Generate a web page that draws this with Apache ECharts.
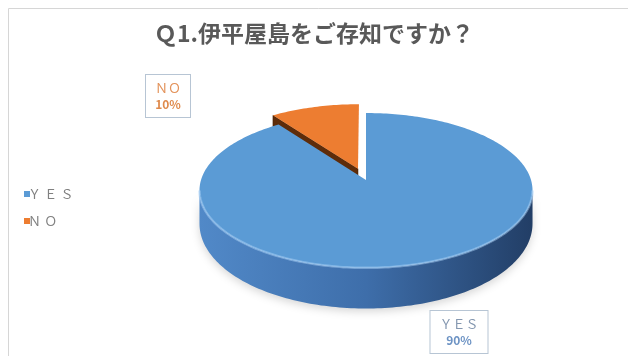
<!DOCTYPE html>
<html>
<head>
<meta charset="utf-8">
<script src="https://cdn.jsdelivr.net/npm/echarts/dist/echarts.min.js"></script>
<style>
  html, body { margin: 0; padding: 0; background: #fff; }
  #chart { width: 628px; height: 356px; }
</style>
</head>
<body>
<div id="chart"></div>
<script>
// Survey answers: Q1. Do you know Iheya Island?
const categories = ['ＹＥＳ', 'ＮＯ'];
const values = [90, 10];

// Look of each slice
const sliceColors = ['#5B9BD5', '#ED7D31'];
const wallStops = [
  ['#5189c8', '#3e6eaa', '#223e66'],
  ['#7e3f12', '#5e2c0a', '#3e1c05']
];
const explodeBy = [0, 0.16];
const labelLook = [
  { dx: 93, dy: 152, nameColor: '#8497b0', pctColor: '#6d93c4' },
  { dx: -198, dy: -84, nameColor: '#e3925a', pctColor: '#df8a4c' }
];

// Tilted disc seen in perspective (pixels)
const pie = { cx: 366, cy: 180, rx: 165, ry: 76, persp: 0.135, depth: 32, depthPersp: 0.27 };

const total = values.reduce((a, b) => a + b, 0);
const TAU = Math.PI * 2;
const FONT = '"Noto Sans CJK JP", "Noto Sans", sans-serif';

// disc coords: u to the right, v toward the viewer; angle t clockwise from 12 o'clock
function project(u, v, down) {
  const s = 1 / (1 - pie.persp * v);
  const drop = down ? pie.depth * (1 + pie.depthPersp * v) : 0;
  return [pie.cx + pie.rx * u * s, pie.cy + pie.ry * v * s + drop];
}
function point(t, r, off, down) {
  return project(off[0] + r * Math.sin(t), off[1] - r * Math.cos(t), down);
}
function arc(t0, t1, down, off) {
  const n = Math.max(4, Math.ceil((t1 - t0) / 0.02));
  const pts = [];
  for (let j = 0; j <= n; j++) pts.push(point(t0 + (t1 - t0) * j / n, 1, off, down));
  return pts;
}
function wallFill(i) {
  const s = wallStops[i];
  return new echarts.graphic.LinearGradient(0, 0, 1, 0, [
    { offset: 0, color: s[0] }, { offset: 0.5, color: s[1] }, { offset: 1, color: s[2] }
  ]);
}

function renderSlice(i) {
  return function () {
    const before = values.slice(0, i).reduce((a, b) => a + b, 0);
    const a0 = before / total * TAU;
    const a1 = (before + values[i]) / total * TAU;
    const mid = (a0 + a1) / 2;
    const k = explodeBy[i];
    const off = [k * Math.sin(mid), -k * Math.cos(mid)];
    const children = [];

    // curved outer wall, the part turned toward the viewer
    const edgeT = Math.acos(-pie.persp);
    const lo = Math.max(a0, edgeT), hi = Math.min(a1, TAU - edgeT);
    if (hi > lo) {
      const top = arc(lo, hi, false, off);
      const bottom = arc(lo, hi, true, off).reverse();
      children.push({
        type: 'polygon', z2: 1,
        shape: { points: top.concat(bottom) },
        style: { fill: wallFill(i), shadowBlur: 8, shadowColor: 'rgba(0,0,0,0.16)', shadowOffsetY: 3 }
      });
      children.push({
        type: 'polyline', z2: 3,
        shape: { points: top },
        style: { stroke: 'rgba(170,210,248,0.5)', lineWidth: 2.5, fill: null }
      });
    }

    // flat cut walls that face the viewer
    const cutWall = (t) => [point(t, 0, off, false), point(t, 1, off, false),
                            point(t, 1, off, true), point(t, 0, off, true)];
    if (Math.sin(a0) < -1e-6) {
      children.push({ type: 'polygon', z2: 1, shape: { points: cutWall(a0) },
                      style: { fill: wallStops[i][1], stroke: wallStops[i][2], lineWidth: 0.5 } });
    }
    if (Math.sin(a1) > 1e-6) {
      children.push({ type: 'polygon', z2: 1, shape: { points: cutWall(a1) },
                      style: { fill: wallStops[i][1], stroke: wallStops[i][2], lineWidth: 0.5 } });
    }

    // top face
    children.push({
      type: 'polygon', z2: 2,
      shape: { points: [point(0, 0, off, false)].concat(arc(a0, a1, false, off)) },
      style: { fill: sliceColors[i] }
    });

    // data label
    const look = labelLook[i];
    const pct = Math.round(values[i] / total * 100) + '%';
    children.push({
      type: 'text', z2: 10,
      style: {
        x: pie.cx + look.dx, y: pie.cy + look.dy,
        text: '{n|' + categories[i] + '}\n{p|' + pct + '}',
        align: 'center', verticalAlign: 'middle',
        backgroundColor: '#ffffff', borderColor: '#b7c5d4', borderWidth: 1,
        padding: [5, 9],
        rich: {
          n: { fill: look.nameColor, fontSize: 13, fontFamily: FONT, lineHeight: 16 },
          p: { fill: look.pctColor, fontSize: 12, fontWeight: 'bold', fontFamily: FONT, lineHeight: 16 }
        }
      }
    });

    return { type: 'group', children: children };
  };
}

const chart = echarts.init(document.getElementById('chart'), null, { renderer: 'canvas' });

chart.setOption({
  backgroundColor: '#ffffff',
  animation: false,
  color: sliceColors,
  title: {
    text: 'Ｑ1.伊平屋島をご存知ですか？',
    left: 'center', top: 17,
    textStyle: { fontSize: 23, fontWeight: 'bold', color: '#595959', fontFamily: FONT }
  },
  legend: {
    orient: 'vertical', left: 24, top: 187, padding: 0,
    icon: 'rect', itemWidth: 6, itemHeight: 6, itemGap: 13,
    data: categories,
    formatter: (name) => name.split('').join('\u2005'),
    textStyle: { fontSize: 13, lineHeight: 14, color: '#808080', fontFamily: FONT, padding: [0, 0, 0, -7] }
  },
  graphic: [{
    type: 'rect', silent: true,
    shape: { x: 8.5, y: 8.5, width: 700, height: 400 },
    style: { fill: null, stroke: '#d6d6d6', lineWidth: 1 }
  }],
  series: categories.map((name, i) => {
    const before = values.slice(0, i).reduce((a, b) => a + b, 0);
    const mid = (before + values[i] / 2) / total * TAU;
    return {
      type: 'custom',
      name: name,
      coordinateSystem: 'none',
      z: Math.cos(mid) < 0 ? 3 : 2,
      itemStyle: { color: sliceColors[i] },
      data: [values[i]],
      renderItem: renderSlice(i)
    };
  })
});
</script>
</body>
</html>
